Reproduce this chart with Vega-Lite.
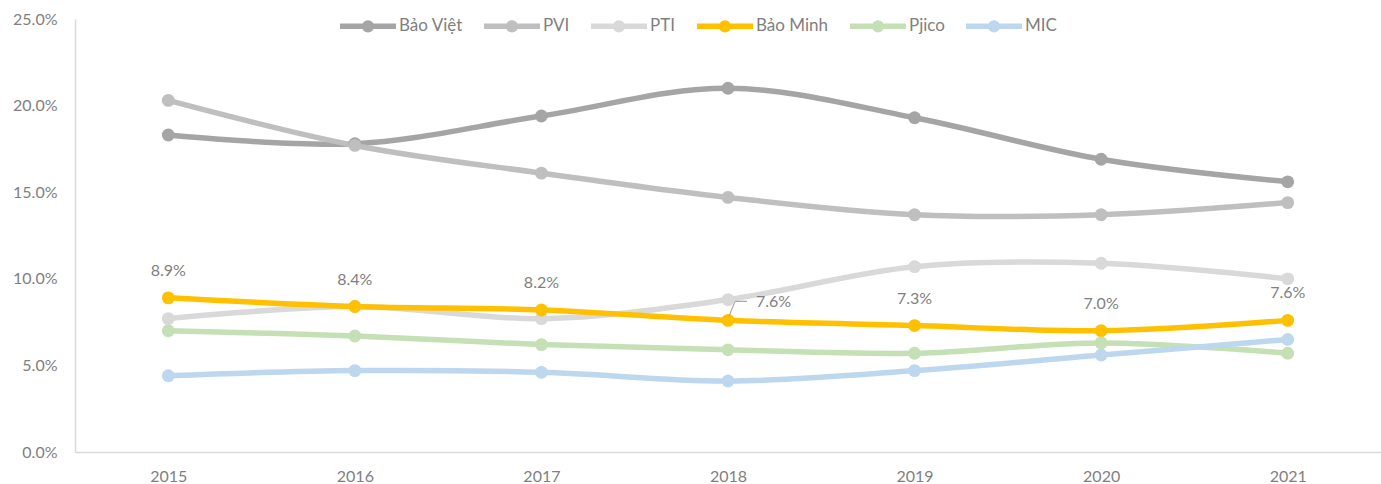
{
  "$schema": "https://vega.github.io/schema/vega-lite/v6.json",
  "width": 1306,
  "height": 433,
  "autosize": "none",
  "padding": {"left": 75, "top": 19, "right": 0, "bottom": 32},
  "background": "white",
  "config": {
    "view": {"stroke": null},
    "font": "Lato",
    "axis": {"labelFont": "Lato", "labelColor": "#7f7f7f", "labelFontSize": 16, "domainColor": "#d9d9d9", "domainWidth": 1.5, "ticks": false, "grid": false, "title": null}
  },
  "data": {"values": [
    {"year": "2015", "company": "Bảo Việt", "value": 0.183},
    {"year": "2016", "company": "Bảo Việt", "value": 0.178},
    {"year": "2017", "company": "Bảo Việt", "value": 0.194},
    {"year": "2018", "company": "Bảo Việt", "value": 0.210},
    {"year": "2019", "company": "Bảo Việt", "value": 0.193},
    {"year": "2020", "company": "Bảo Việt", "value": 0.169},
    {"year": "2021", "company": "Bảo Việt", "value": 0.156},
    {"year": "2015", "company": "PVI", "value": 0.203},
    {"year": "2016", "company": "PVI", "value": 0.177},
    {"year": "2017", "company": "PVI", "value": 0.161},
    {"year": "2018", "company": "PVI", "value": 0.147},
    {"year": "2019", "company": "PVI", "value": 0.137},
    {"year": "2020", "company": "PVI", "value": 0.137},
    {"year": "2021", "company": "PVI", "value": 0.144},
    {"year": "2015", "company": "PTI", "value": 0.077},
    {"year": "2016", "company": "PTI", "value": 0.084},
    {"year": "2017", "company": "PTI", "value": 0.077},
    {"year": "2018", "company": "PTI", "value": 0.088},
    {"year": "2019", "company": "PTI", "value": 0.107},
    {"year": "2020", "company": "PTI", "value": 0.109},
    {"year": "2021", "company": "PTI", "value": 0.100},
    {"year": "2015", "company": "Bảo Minh", "value": 0.089},
    {"year": "2016", "company": "Bảo Minh", "value": 0.084},
    {"year": "2017", "company": "Bảo Minh", "value": 0.082},
    {"year": "2018", "company": "Bảo Minh", "value": 0.076},
    {"year": "2019", "company": "Bảo Minh", "value": 0.073},
    {"year": "2020", "company": "Bảo Minh", "value": 0.070},
    {"year": "2021", "company": "Bảo Minh", "value": 0.076},
    {"year": "2015", "company": "Pjico", "value": 0.070},
    {"year": "2016", "company": "Pjico", "value": 0.067},
    {"year": "2017", "company": "Pjico", "value": 0.062},
    {"year": "2018", "company": "Pjico", "value": 0.059},
    {"year": "2019", "company": "Pjico", "value": 0.057},
    {"year": "2020", "company": "Pjico", "value": 0.063},
    {"year": "2021", "company": "Pjico", "value": 0.057},
    {"year": "2015", "company": "MIC", "value": 0.044},
    {"year": "2016", "company": "MIC", "value": 0.047},
    {"year": "2017", "company": "MIC", "value": 0.046},
    {"year": "2018", "company": "MIC", "value": 0.041},
    {"year": "2019", "company": "MIC", "value": 0.047},
    {"year": "2020", "company": "MIC", "value": 0.056},
    {"year": "2021", "company": "MIC", "value": 0.065}
  ]},
  "encoding": {
    "x": {"field": "year", "type": "ordinal", "scale": {"type": "point", "padding": 0.5}, "axis": {"labelAngle": 0, "labelPadding": 16, "domainColor": "#d9d9d9"}},
    "y": {"field": "value", "type": "quantitative", "scale": {"domain": [0, 0.25], "nice": false}, "axis": {"format": ".1%", "values": [0, 0.05, 0.1, 0.15, 0.2, 0.25], "labelPadding": 18}},
    "color": {"field": "company", "type": "nominal", "sort": null,
      "scale": {"domain": ["Bảo Việt", "PVI", "PTI", "Bảo Minh", "Pjico", "MIC"], "range": ["#a5a5a5", "#bfbfbf", "#d9d9d9", "#ffc000", "#c5e0b4", "#bdd7ee"]},
      "legend": {"title": null, "orient": "none", "direction": "horizontal", "legendX": 262, "legendY": -24,
        "symbolType": "M-1,0L1,0M0.12,0A0.12,0.12,0,1,1,-0.12,0A0.12,0.12,0,1,1,0.12,0",
        "symbolSize": 3136, "symbolStrokeWidth": 5.5, "labelFont": "Lato", "labelFontSize": 17, "labelColor": "#7f7f7f", "columnPadding": 10, "labelOffset": 0}}
  },
  "layer": [
    {"mark": {"type": "line", "interpolate": "catmull-rom", "strokeWidth": 5.5, "strokeCap": "round"}},
    {"mark": {"type": "point", "filled": true, "opacity": 1, "size": 165}},
    {"transform": [{"filter": "datum.company === 'Bảo Minh' && datum.year !== '2018'"}],
     "mark": {"type": "text", "dy": -27, "fontSize": 16, "font": "Lato", "baseline": "middle"},
     "encoding": {"text": {"field": "value", "type": "quantitative", "format": ".1%"}, "color": {"value": "#7f7f7f"}}},
    {"transform": [{"filter": "datum.company === 'Bảo Minh' && datum.year === '2018'"}],
     "mark": {"type": "text", "dx": 28, "dy": -18, "align": "left", "fontSize": 16, "font": "Lato", "baseline": "middle"},
     "encoding": {"text": {"field": "value", "type": "quantitative", "format": ".1%"}, "color": {"value": "#7f7f7f"}}},
    {"transform": [{"filter": "datum.company === 'Bảo Minh' && datum.year === '2018'"}],
     "mark": {"type": "rule", "strokeWidth": 1.2, "xOffset": 1, "x2Offset": 7, "yOffset": -4, "y2Offset": -19},
     "encoding": {"x2": {"field": "year"}, "y2": {"field": "value"}, "color": {"value": "#a6a6a6"}}},
    {"transform": [{"filter": "datum.company === 'Bảo Minh' && datum.year === '2018'"}],
     "mark": {"type": "rule", "strokeWidth": 1.2, "xOffset": 7, "x2Offset": 19, "yOffset": -19, "y2Offset": -19},
     "encoding": {"x2": {"field": "year"}, "y2": {"field": "value"}, "color": {"value": "#a6a6a6"}}}
  ]
}
